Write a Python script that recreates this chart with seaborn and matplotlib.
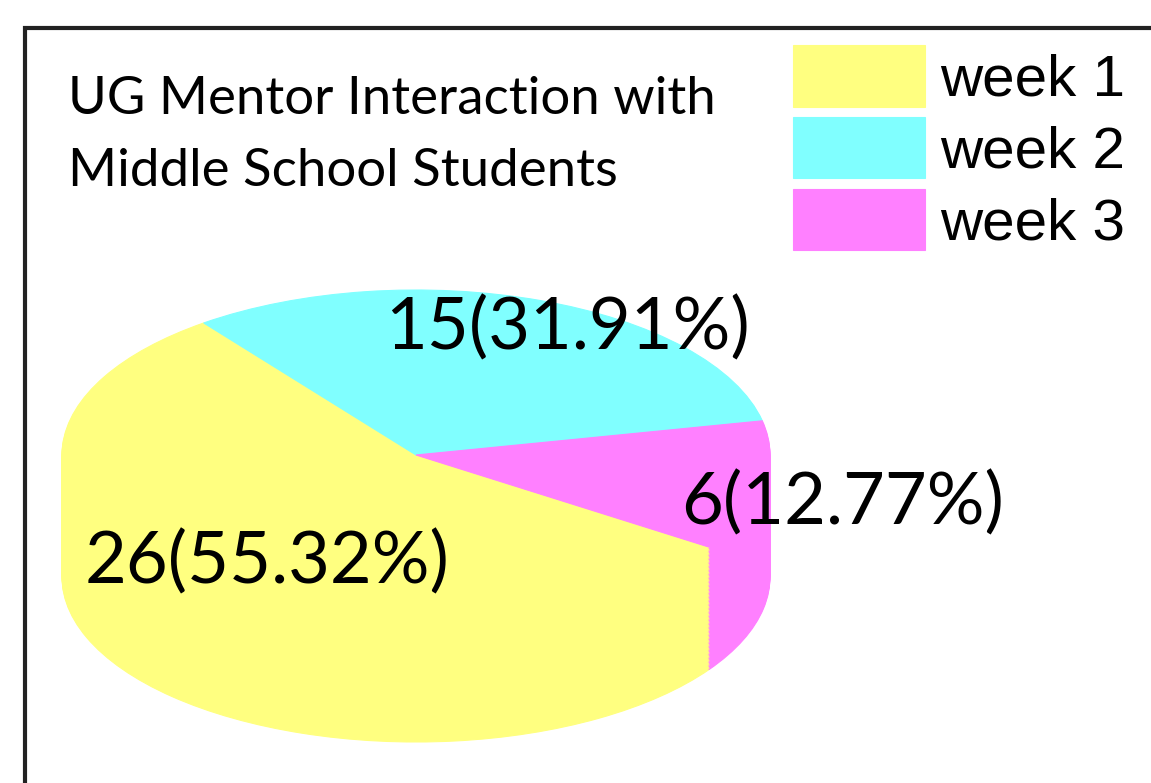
import matplotlib
matplotlib.use("Agg")
import matplotlib.pyplot as plt
from matplotlib.patches import Rectangle
import seaborn as sns

# ---- data ----
categories = ["week 1", "week 2", "week 3"]
counts = [26, 15, 6]
colors = ["#FFFF80", "#80FFFF", "#FF80FF"]
title = "UG Mentor Interaction with\nMiddle School Students"

sns.set_theme(style="white")
plt.rcParams["font.family"] = ["Lato", "DejaVu Sans"]
plt.rcParams["text.color"] = "black"

W, H = 1151, 783
fig = plt.figure(figsize=(W / 100, H / 100), dpi=100)
fig.patch.set_facecolor("white")

ax = fig.add_axes([0, 0, 1, 1])
ax.axis("off")

total = sum(counts)
label_texts = [f"{c}({c / total * 100:.2f}%)" for c in counts]

# pixel geometry of the tilted pie
cx_px, cy_px = 416, 455          # top-face centre (from top-left)
rx_px, ry_px = 354, 165          # ellipse radii
depth_px = 122                   # thickness of the pie
start = -34

depth = depth_px / ry_px
nsteps = 90
top_wedges, top_texts = None, None
for i in range(nsteps, -1, -1):
    off = depth * i / nsteps
    is_top = i == 0
    res = ax.pie(counts, colors=colors, startangle=start, counterclock=False,
                 center=(0, -off), radius=1.0,
                 labels=label_texts if is_top else None,
                 wedgeprops=dict(linewidth=0.8))
    for w in res[0]:
        w.set_edgecolor(w.get_facecolor())
    if is_top:
        top_wedges, top_texts = res[0], res[1]

ax.set_aspect("auto")
ax.set_xlim(-cx_px / rx_px, (W - cx_px) / rx_px)
ax.set_ylim(-(H - cy_px) / ry_px, cy_px / ry_px)

# label positions (pixel -> data)
label_px = [(267, 562), (567, 328), (843, 503)]
for t, (px, py) in zip(top_texts, label_px):
    t.set_position(((px - cx_px) / rx_px, (cy_px - py) / ry_px))
    t.set_ha("center")
    t.set_va("center")
    t.set_fontsize(52)
    t.set_color("black")

# title
fig.text(68 / W, 1 - 76 / H, title, ha="left", va="top", fontsize=38,
         linespacing=1.65, color="black")

# legend
leg = fig.legend(top_wedges, categories, loc="upper left",
                 bbox_to_anchor=(793 / W, 1 - 45 / H),
                 frameon=False, borderpad=0, borderaxespad=0,
                 handlelength=2.27, handleheight=1.25, handletextpad=0.26,
                 labelspacing=0.16, labelcolor="black",
                 prop={"family": "Liberation Sans", "size": 42})

# outer frame (only top and left edges visible)
fig.add_artist(Rectangle((25 / W, -0.2), 2.0, 1.2 - 28 / H,
                         transform=fig.transFigure, fill=False,
                         edgecolor="#222222", linewidth=3, clip_on=False))

fig.savefig("out.png", dpi=100, facecolor="white")
